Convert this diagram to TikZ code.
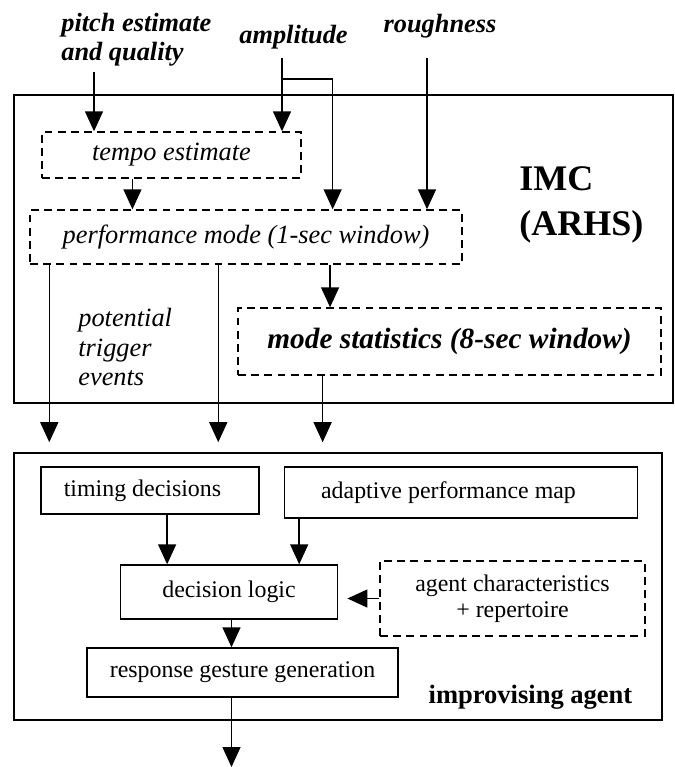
\documentclass[tikz,border=0pt]{standalone}
\usepackage{fontspec}
\setmainfont{Liberation Serif}
\usetikzlibrary{arrows.meta,calc,positioning}

\begin{document}
\begin{tikzpicture}
	[x=0.02cm,y=-0.02cm,
	box/.style={draw,line width=0.8pt,inner sep=0pt,font=\fontsize{13.6}{15}\selectfont},
	dbox/.style={box,dash pattern=on 4.5pt off 3pt},
	ibox/.style={dbox,font=\fontsize{15}{17}\selectfont\itshape},
	frame/.style={draw,line width=0.9pt,inner sep=0pt},
	input/.style={inner sep=0pt,font=\fontsize{15}{16.5}\selectfont\bfseries\itshape},
	arc/.style={-{Triangle[length=0.4cm,width=0.36cm]},line width=0.8pt},
	gap/.style={shorten >=0.2cm}]
	\useasboundingbox (0,0) rectangle (675,767);
	
	% IMC
	\node (imc) [frame,minimum width=13.18cm,minimum height=6.16cm] at (343.5,249) {};
	\node (imclabel) [anchor=west,align=left,inner sep=0pt,font=\fontsize{20.5}{25.5}\selectfont\bfseries] at (519,205) {IMC\\(ARHS)};
	\node (tempo) [ibox,minimum width=5.18cm,minimum height=0.92cm] at (171.5,155) {tempo estimate};
	\node (perf) [ibox,minimum width=8.64cm,minimum height=1.08cm] at (246,237) {performance mode (1-sec window)};
	\node (modestat) [dbox,minimum width=8.46cm,minimum height=1.34cm,font=\fontsize{16.7}{19}\selectfont\bfseries\itshape] at (449.5,341.5) {mode statistics (8-sec window)};
	\node (trigger) [anchor=west,align=left,inner sep=0pt,font=\fontsize{15}{17}\selectfont\itshape] at (78,347) {potential\\trigger\\events};
	
	% inputs
	\node (pitch) [input,anchor=west,align=left] at (61,40) {pitch estimate\\and quality};
	\node (ampl) [input] at (293.5,37) {amplitude};
	\node (rough) [input] at (440,26) {roughness};
	\coordinate (pitchin) at (94,72);
	\coordinate (ampin) at (282,58);
	\coordinate (ampsplit) at (282,79);
	\coordinate (roughin) at (427,58);
	
	% improvising agent
	\node (agent) [frame,minimum width=12.96cm,minimum height=5.34cm] at (338,586.5) {};
	\node (agentlabel) [inner sep=0pt,font=\fontsize{15.1}{17}\selectfont\bfseries] at (530.5,697) {improvising agent};
	\node (timing) [box,minimum width=4.36cm,minimum height=0.94cm] at (150,490.5) {timing decisions\hspace*{0.3cm}};
	\node (adaptive) [box,minimum width=7.07cm,minimum height=1.02cm] at (461,492.5) {adaptive performance map\hspace*{0.5cm}};
	\node (decision) [box,minimum width=4.35cm,minimum height=1.08cm] at (229,592) {decision logic};
	\node (traits) [dbox,align=center,minimum width=5.3cm,minimum height=1.5cm] at (512.5,598.5) {agent characteristics\\+ repertoire};
	\node (response) [box,minimum width=6.22cm,minimum height=0.98cm] at (242.5,672.5) {response gesture generation};
	\coordinate (out) at (231.5,767);
	
	\draw [arc] (pitchin) -- (pitchin |- tempo.north);
	\draw [arc] (ampin) -- (ampin |- tempo.north);
	\draw [arc] (ampsplit) -| ($(perf.north west)!0.70!(perf.north east)$);
	\draw [arc] (roughin) -- (roughin |- perf.north);
	\draw [arc] ($(tempo.south west)!0.35!(tempo.south east)$) coordinate (t1) -- (t1 |- perf.north);
	\draw [arc] ($(perf.south west)!0.694!(perf.south east)$) coordinate (p3) -- (p3 |- modestat.north);
	\foreach \f in {0.046,0.436}
	\draw [arc,gap] ($(perf.south west)!\f!(perf.south east)$) coordinate (p) -- (p |- agent.north);
	\draw [arc,gap] ($(modestat.south west)!0.201!(modestat.south east)$) coordinate (m1) -- (m1 |- agent.north);
	
	\draw [arc] ($(timing.south west)!0.578!(timing.south east)$) coordinate (d1) -- (d1 |- decision.north);
	\draw [arc] ($(adaptive.south west)!0.044!(adaptive.south east)$) coordinate (d2) -- (d2 |- decision.north);
	\draw [arc,shorten >=0.18cm] (traits.west) -- (traits.west -| decision.east);
	\draw [arc] (out |- decision.south) -- (out |- response.north);
	\draw [arc] (out |- response.south) -- (out);
\end{tikzpicture}
\end{document}
